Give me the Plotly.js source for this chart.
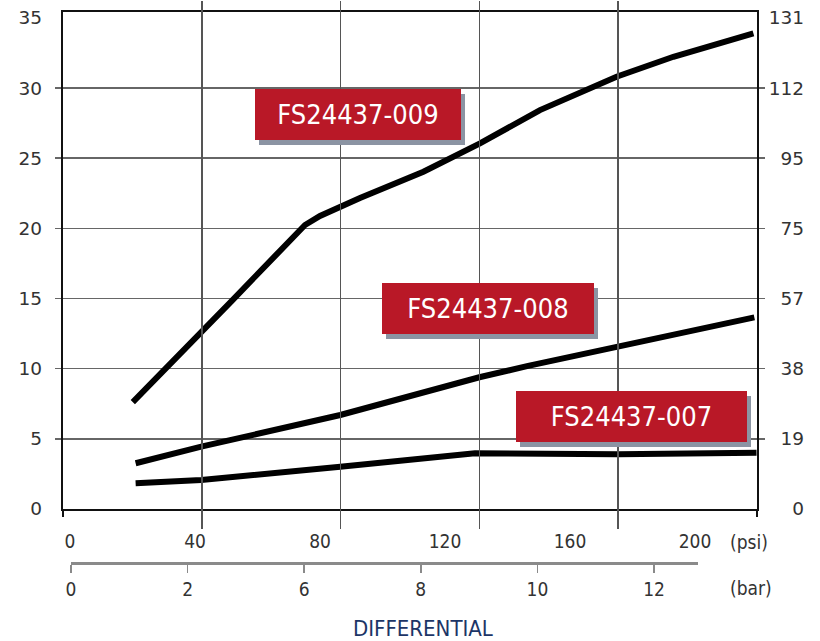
<!DOCTYPE html>
<html>
<head>
<meta charset="utf-8">
<script src="https://cdn.plot.ly/plotly-3.0.1.min.js"></script>
<style>html,body{margin:0;padding:0;background:#fff;}#chart{width:820px;height:641px;}</style>
</head>
<body>
<div id="chart"></div>
<script>
// ---- data ----
const psiTickVals = [0, 40, 80, 120, 160, 200];
const barTickLabels = ['0', '2', '6', '8', '10', '12'];
const leftTickVals = [0, 5, 10, 15, 20, 25, 30, 35];
const gridTickVals = [5, 10, 15, 20, 25, 30];
const rightTickLabels = ['0', '19', '38', '57', '75', '95', '112', '131'];
const seriesNames = ['FS24437-009', 'FS24437-008', 'FS24437-007'];

const psi009 = [20.1, 42.2, 51.7, 75.2, 80, 92.8, 113.1, 131.2, 150.4, 174.9, 193.1, 218.7];
const flow009 = [7.62, 12.76, 14.82, 20.24, 20.88, 22.16, 24.04, 26.06, 28.43, 30.81, 32.23, 33.90];
const psi008 = [21, 42, 86.5, 131, 146.6, 175.4, 219];
const flow008 = [3.26, 4.44, 6.70, 9.39, 10.2, 11.57, 13.66];
const psi007 = [21, 42, 86.5, 107.4, 129.6, 175.4, 219.7];
const flow007 = [1.83, 2.07, 3.01, 3.44, 3.97, 3.90, 4.01];

// ---- layout helpers ----
const W = 820, H = 641, ML = 63, MR = 13, MT = 0, MB = 30;
const PW = W - ML - MR, PH = H - MT - MB;
const fx = px => (px - ML) / PW;
const fy = py => (H - MB - py) / PH;

const plotTop = 12, plotBottom = 509;
const xMin = -2.24, xMax = 219.84;
const xStep = (xMax - xMin) / 5;
const yMax = 35.42;
const pxPerUnit = (plotBottom - plotTop) / yMax;
const barRange = 627 / 116.6;

const narrow = "'DejaVu Sans Condensed', 'DejaVu Sans', sans-serif";
const regular = "'DejaVu Sans', sans-serif";

const lineStyle = {color: '#000', width: 6};
const traces = [
  {x: psi009, y: flow009, mode: 'lines', line: lineStyle, name: seriesNames[0], hoverinfo: 'skip'},
  {x: psi008, y: flow008, mode: 'lines', line: lineStyle, name: seriesNames[1], hoverinfo: 'skip'},
  {x: psi007, y: flow007, mode: 'lines', line: lineStyle, name: seriesNames[2], hoverinfo: 'skip'},
  {x: [], y: [], xaxis: 'x', yaxis: 'y2', hoverinfo: 'skip'},
  {x: [], y: [], xaxis: 'x', yaxis: 'y3', hoverinfo: 'skip'},
  {x: [], y: [], xaxis: 'x2', yaxis: 'y4', hoverinfo: 'skip'},
  {x: [], y: [], xaxis: 'x3', yaxis: 'y5', hoverinfo: 'skip'}
];

const boxes = [
  {x: 92.3, y: 28.08, w: 206},
  {x: 133.8, y: 14.27, w: 212},
  {x: 179.6, y: 6.58, w: 231}
];
const annotations = [];
boxes.forEach((b, i) => {
  annotations.push({x: b.x, y: b.y, xref: 'x', yref: 'y', text: '', showarrow: false,
    xanchor: 'center', yanchor: 'middle',
    width: b.w, height: 51, bgcolor: '#8b94a3', borderpad: 0, borderwidth: 0,
    xshift: 4, yshift: -5});
  annotations.push({x: b.x, y: b.y, xref: 'x', yref: 'y', text: seriesNames[i], showarrow: false,
    xanchor: 'center', yanchor: 'middle',
    width: b.w, height: 51, bgcolor: '#b91827', borderpad: 0, borderwidth: 0,
    font: {family: narrow, size: 27, color: '#fff'}});
});
const unitFont = {family: narrow, size: 19, color: '#333'};
annotations.push({x: fx(749), y: fy(542), xref: 'paper', yref: 'paper', text: '(psi)', showarrow: false,
  xanchor: 'center', yanchor: 'middle', font: unitFont});
annotations.push({x: fx(751), y: fy(588), xref: 'paper', yref: 'paper', text: '(bar)', showarrow: false,
  xanchor: 'center', yanchor: 'middle', font: unitFont});
annotations.push({x: fx(423), y: fy(628), xref: 'paper', yref: 'paper', text: 'DIFFERENTIAL', showarrow: false,
  xanchor: 'center', yanchor: 'middle', font: {family: narrow, size: 22, color: '#1c3566'}});

const layout = {
  width: W, height: H,
  margin: {l: ML, r: MR, t: MT, b: MB, pad: 0},
  paper_bgcolor: '#fff', plot_bgcolor: 'rgba(0,0,0,0)',
  showlegend: false,
  xaxis: {
    domain: [0, fx(757)], range: [xMin, xMax + 0.01],
    tick0: xMin + xStep, dtick: xStep, tickmode: 'linear',
    showgrid: true, gridcolor: '#555', gridwidth: 1.5,
    showline: true, linecolor: '#111', linewidth: 2, mirror: true,
    ticks: 'outside', ticklen: 6, tickcolor: '#111', tickwidth: 1.5,
    showticklabels: false, zeroline: false, fixedrange: true
  },
  yaxis: {
    domain: [fy(plotBottom), fy(plotTop)], range: [0, yMax],
    tickmode: 'array', tickvals: gridTickVals,
    showgrid: true, gridcolor: '#666', gridwidth: 1.5,
    showline: true, linecolor: '#111', linewidth: 2, mirror: 'ticks',
    ticks: 'outside', ticklen: 6, tickcolor: '#666', tickwidth: 1.5,
    showticklabels: false, zeroline: false, fixedrange: true
  },
  yaxis2: {
    overlaying: 'y', side: 'left', anchor: 'x', range: [0, yMax],
    tickmode: 'array', tickvals: leftTickVals, ticktext: leftTickVals.map(String),
    showgrid: false, showline: false, ticks: '', zeroline: false,
    ticklabelstandoff: 20,
    tickfont: {family: regular, size: 18.5, color: '#333'}
  },
  yaxis3: {
    side: 'right', anchor: 'free', position: 1,
    domain: [fy(plotBottom + 20), fy(1)],
    range: [-20 / pxPerUnit, yMax + (plotTop - 1) / pxPerUnit],
    tickmode: 'array', tickvals: leftTickVals, ticktext: rightTickLabels,
    ticklabelposition: 'inside',
    showgrid: false, showline: false, ticks: '', zeroline: false,
    tickfont: {family: regular, size: 18.5, color: '#333'}
  },
  xaxis2: {
    domain: [fx(70), fx(695)], range: [0, 200], anchor: 'y4',
    tickmode: 'array', tickvals: psiTickVals, ticktext: psiTickVals.map(String),
    showgrid: false, showline: false, ticks: '', zeroline: false,
    tickfont: {family: narrow, size: 19, color: '#333'}
  },
  yaxis4: {
    domain: [fy(528), fy(528) + 0.002], range: [0, 1],
    visible: false
  },
  xaxis3: {
    domain: [fx(71), fx(698)], range: [0, barRange], anchor: 'y5',
    tickmode: 'array', tickvals: barTickLabels.map((_, i) => i), ticktext: barTickLabels,
    showgrid: false, zeroline: false,
    showline: true, linecolor: '#8a8a8a', linewidth: 2.5,
    ticks: 'outside', ticklen: 8, tickcolor: '#8a8a8a', tickwidth: 1.5,
    ticklabelstandoff: 1,
    tickfont: {family: narrow, size: 19, color: '#333'}
  },
  yaxis5: {
    domain: [fy(562), fy(562) + 0.002], range: [0, 1],
    visible: false
  },
  annotations: annotations
};

Plotly.newPlot('chart', traces, layout, {displayModeBar: false, staticPlot: true});
</script>
</body>
</html>
